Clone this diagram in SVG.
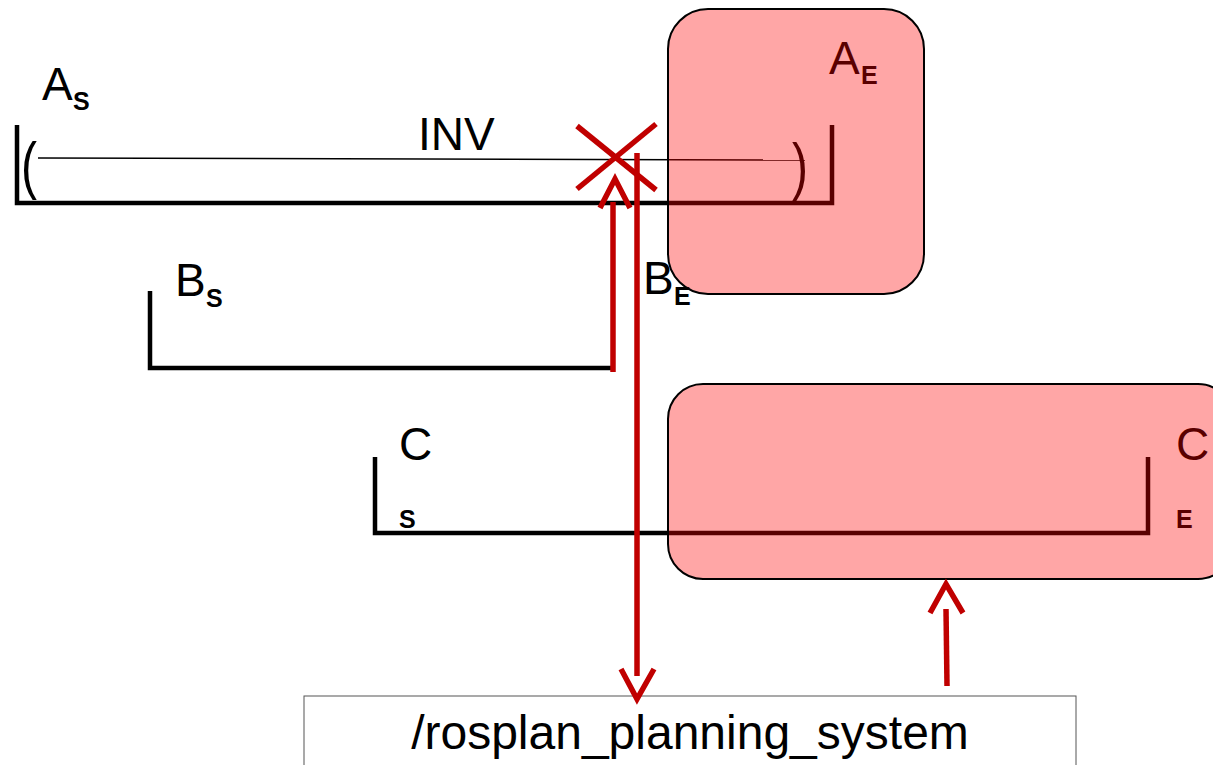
<svg xmlns="http://www.w3.org/2000/svg" width="1213" height="765" viewBox="0 0 1213 765">
<style>
.t{font-family:"Liberation Sans",Arial,sans-serif;font-size:46px;fill:#000}
.p{font-family:"Liberation Sans",Arial,sans-serif;font-size:48px;fill:#000}
.sub{font-family:"Liberation Sans",Arial,sans-serif;font-size:25px;font-weight:bold;fill:#000}
.bar{stroke:#000;stroke-width:4.5;fill:none}
.red{stroke:#c00000;stroke-width:5.5;fill:none}
.ov{fill:#ff0000;fill-opacity:0.35;stroke:#000;stroke-width:2}
</style>
<rect width="1213" height="765" fill="#fff"/>
<g id="A">
<path class="bar" d="M17,125 V203 H832 V125"/>
<line x1="38" y1="158" x2="805" y2="160" stroke="#000" stroke-width="1.5"/>
<text class="p" transform="translate(21,187) scale(1,1.3)">(</text>
<text class="p" transform="translate(792,188) scale(1,1.3)">)</text>
<text class="t" x="418" y="150">INV</text>
<text class="t" x="42" y="100">A</text><text class="sub" x="73" y="110">S</text>
<text class="t" x="829" y="74">A</text><text class="sub" x="861" y="84">E</text>
</g>
<g id="B">
<path class="bar" d="M150,291 V368 H614"/>
<text class="t" x="175" y="296">B</text><text class="sub" x="206" y="307">S</text>
<text class="t" x="643" y="294">B</text><text class="sub" x="674" y="305">E</text>
</g>
<g id="C">
<path class="bar" d="M375,457 V533 H1148 V457"/>
<text class="t" x="399" y="460">C</text><text class="sub" x="399" y="528">S</text>
<text class="t" x="1176" y="460">C</text><text class="sub" x="1176" y="528">E</text>
</g>
<g id="AE_box"><rect class="ov" x="668" y="9" width="256" height="285" rx="40"/></g>
<g id="CE_box"><rect class="ov" x="668" y="384" width="565" height="195" rx="35"/></g>
<g id="planner">
<rect x="304" y="696" width="772" height="80" fill="#fff" stroke="#555" stroke-width="1"/>
<text class="t" x="690" y="749" text-anchor="middle" style="font-size:48px">/rosplan_planning_system</text>
</g>
<g id="connectors">
<line class="red" x1="577" y1="126" x2="656" y2="190"/>
<line class="red" x1="656" y1="124" x2="577" y2="189"/>
<line class="red" x1="613" y1="372" x2="613" y2="202"/>
<polyline class="red" points="600,208 615,179 630,208"/>
<line class="red" x1="637" y1="153" x2="637" y2="676"/>
<polyline class="red" points="621,669 637,699 654,669"/>
<line class="red" x1="947" y1="686" x2="946" y2="609"/>
<polyline class="red" points="930,613 946,584 963,613"/>
</g>
</svg>
